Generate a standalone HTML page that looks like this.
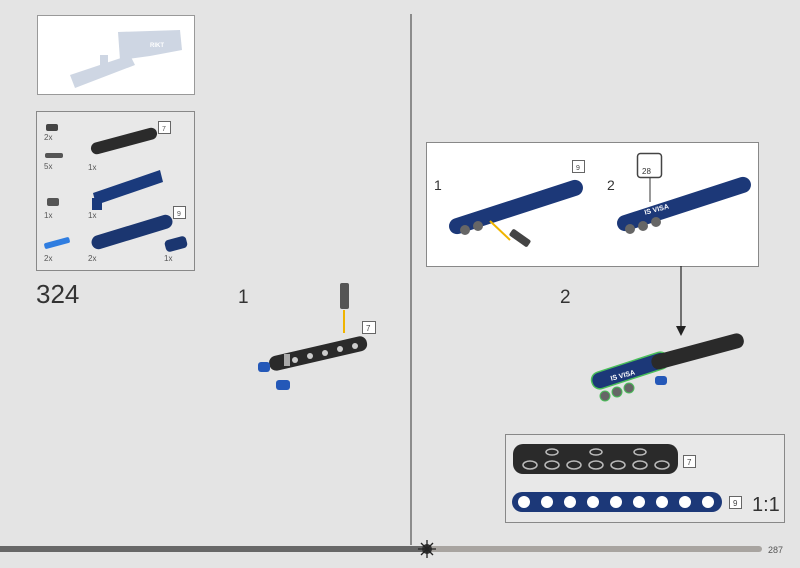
<!DOCTYPE html>
<html><head><meta charset="utf-8"><style>
html,body{margin:0;padding:0;background:#e4e4e4;}
svg{display:block;font-family:"Liberation Sans",sans-serif;}
</style></head><body>
<svg width="800" height="568" viewBox="0 0 800 568" xmlns="http://www.w3.org/2000/svg">
<rect width="800" height="568" fill="#e4e4e4"/>
<!-- top-left preview -->
<rect x="37.5" y="15.5" width="157" height="79" fill="#fff" stroke="#999"/>
<g fill="#c9d2e0" opacity="0.9">
<polygon points="118,32 180,30 182,50 150,56 120,60"/>
<polygon points="70,75 130,55 135,65 75,88"/>
<rect x="100" y="55" width="8" height="20"/>
</g>
<text x="150" y="47" font-size="6" fill="#fff" font-weight="bold">RIKT</text>
<!-- parts box -->
<rect x="36.5" y="111.5" width="158" height="159" fill="#e8e8e8" stroke="#888"/>
<g font-size="8" fill="#555">
<rect x="46" y="124" width="12" height="7" rx="2" fill="#444"/><text x="44" y="140">2x</text>
<rect x="45" y="153" width="18" height="5" rx="2" fill="#555"/><text x="44" y="169">5x</text>
<rect x="47" y="198" width="12" height="8" rx="2" fill="#555"/><text x="44" y="218">1x</text>
<rect x="44" y="240" width="26" height="6" rx="2" fill="#2f7de0" transform="rotate(-15 57 243)"/><text x="44" y="261">2x</text>
<rect x="90" y="135" width="68" height="12" rx="6" fill="#2b2b2b" transform="rotate(-15 124 141)"/><text x="88" y="170">1x</text>
<rect x="158.5" y="121.5" width="12" height="12" fill="#fff" stroke="#666"/><text x="162" y="131" font-size="7">7</text>
<polygon points="93,193 160,170 163,182 96,205" fill="#1a3a7c"/><rect x="92" y="198" width="10" height="12" fill="#1a3a7c"/><text x="88" y="218">1x</text>
<rect x="90" y="225" width="84" height="14" rx="7" fill="#1b3670" transform="rotate(-17 132 232)"/><text x="88" y="261">2x</text>
<rect x="173.5" y="206.5" width="12" height="12" fill="#fff" stroke="#666"/><text x="177" y="216" font-size="7">9</text>
<rect x="165" y="238" width="22" height="12" rx="4" fill="#1b3670" transform="rotate(-15 176 244)"/><text x="164" y="261">1x</text>
</g>
<text x="36" y="303" font-size="26" fill="#333">324</text>
<!-- divider -->
<line x1="411" y1="14" x2="411" y2="545" stroke="#333" stroke-width="1"/>
<!-- step 1 -->
<text x="238" y="303" font-size="19" fill="#333">1</text>
<rect x="340" y="283" width="9" height="26" rx="2" fill="#555"/>
<line x1="344" y1="310" x2="344" y2="333" stroke="#f0b400" stroke-width="2"/>
<rect x="362.5" y="321.5" width="13" height="12" fill="#fff" stroke="#666"/><text x="366" y="331" font-size="8" fill="#444">7</text>
<rect x="268" y="346" width="100" height="15" rx="7" fill="#2a2a2a" transform="rotate(-13 318 353)"/>
<g fill="#ccc"><circle cx="295" cy="360" r="3"/><circle cx="310" cy="356" r="3"/><circle cx="325" cy="353" r="3"/><circle cx="340" cy="349" r="3"/><circle cx="355" cy="346" r="3"/></g>
<rect x="284" y="354" width="6" height="12" fill="#aaa"/>
<rect x="258" y="362" width="12" height="10" rx="3" fill="#2458b8"/>
<rect x="276" y="380" width="14" height="10" rx="3" fill="#2458b8"/>
<!-- right submodel box -->
<rect x="426.5" y="142.5" width="332" height="124" fill="#fff" stroke="#888"/>
<text x="434" y="190" font-size="14" fill="#333">1</text>
<text x="607" y="190" font-size="14" fill="#333">2</text>
<rect x="446" y="199" width="140" height="16" rx="8" fill="#1c3878" transform="rotate(-18 516 207)"/>
<rect x="572.5" y="160.5" width="12" height="12" fill="#fff" stroke="#666"/><text x="576" y="170" font-size="7" fill="#444">9</text>
<line x1="510" y1="240" x2="490" y2="221" stroke="#f0b400" stroke-width="2"/>
<rect x="509" y="234" width="22" height="8" rx="2" fill="#444" transform="rotate(35 520 238)"/>
<g fill="#666"><circle cx="465" cy="230" r="5"/><circle cx="478" cy="226" r="5"/></g>
<rect x="614" y="196" width="140" height="16" rx="8" fill="#1c3878" transform="rotate(-18 684 204)"/>
<text x="644" y="212" font-size="7" fill="#fff" font-weight="bold" transform="rotate(-15 655 209)">IS  VISA</text>
<g fill="#666"><circle cx="630" cy="229" r="5"/><circle cx="643" cy="226" r="5"/><circle cx="656" cy="222" r="5"/></g>
<rect x="637.5" y="153.5" width="24" height="24" rx="3" fill="#fff" stroke="#444" stroke-width="1.5"/>
<text x="642" y="174" font-size="8" fill="#333">28</text>
<line x1="650" y1="178" x2="650" y2="202" stroke="#333"/>
<!-- arrow -->
<line x1="681" y1="266" x2="681" y2="330" stroke="#222" stroke-width="1.2"/>
<polygon points="676,326 686,326 681,336" fill="#222"/>
<text x="560" y="303" font-size="19" fill="#333">2</text>
<!-- assembled -->
<rect x="590" y="362" width="80" height="17" rx="8" fill="#1c3878" stroke="#4bbf5a" stroke-width="1.5" transform="rotate(-18 630 370)"/>
<rect x="650" y="344" width="95" height="15" rx="7" fill="#2a2a2a" transform="rotate(-15 697 351)"/>
<text x="610" y="377" font-size="7" fill="#fff" font-weight="bold" transform="rotate(-15 625 374)">IS  VISA</text>
<g fill="#666" stroke="#4bbf5a"><circle cx="605" cy="396" r="5"/><circle cx="617" cy="392" r="5"/><circle cx="629" cy="388" r="5"/></g>
<rect x="655" y="376" width="12" height="9" rx="3" fill="#2458b8"/>
<!-- scale box -->
<rect x="505.5" y="434.5" width="279" height="88" fill="#e8e8e8" stroke="#888"/>
<rect x="513" y="444" width="165" height="30" rx="10" fill="#2a2a2a"/>
<g fill="none" stroke="#bbb" stroke-width="1.5">
<ellipse cx="530" cy="465" rx="7" ry="4"/><ellipse cx="552" cy="465" rx="7" ry="4"/><ellipse cx="574" cy="465" rx="7" ry="4"/><ellipse cx="596" cy="465" rx="7" ry="4"/><ellipse cx="618" cy="465" rx="7" ry="4"/><ellipse cx="640" cy="465" rx="7" ry="4"/><ellipse cx="662" cy="465" rx="7" ry="4"/>
<ellipse cx="552" cy="452" rx="6" ry="3"/><ellipse cx="596" cy="452" rx="6" ry="3"/><ellipse cx="640" cy="452" rx="6" ry="3"/>
</g>
<rect x="683.5" y="455.5" width="12" height="12" fill="#fff" stroke="#666"/><text x="687" y="465" font-size="8" fill="#444">7</text>
<rect x="512" y="492" width="210" height="20" rx="10" fill="#1c3878"/>
<g fill="#fff"><circle cx="524" cy="502" r="6"/><circle cx="547" cy="502" r="6"/><circle cx="570" cy="502" r="6"/><circle cx="593" cy="502" r="6"/><circle cx="616" cy="502" r="6"/><circle cx="639" cy="502" r="6"/><circle cx="662" cy="502" r="6"/><circle cx="685" cy="502" r="6"/><circle cx="708" cy="502" r="6"/></g>
<rect x="729.5" y="496.5" width="12" height="12" fill="#fff" stroke="#666"/><text x="733" y="506" font-size="8" fill="#444">9</text>
<text x="752" y="511" font-size="20" fill="#333">1:1</text>
<!-- progress bar -->
<rect x="0" y="546" width="426" height="6" fill="#676767"/>
<rect x="426" y="546" width="336" height="6" rx="3" fill="#a8a4a0"/>
<circle cx="427" cy="549" r="5" fill="#333"/>
<g stroke="#222" stroke-width="1.3">
<line x1="427" y1="540" x2="427" y2="558"/><line x1="418" y1="549" x2="436" y2="549"/>
<line x1="421" y1="543" x2="433" y2="555"/><line x1="433" y1="543" x2="421" y2="555"/>
</g>
<text x="768" y="553" font-size="9" fill="#555">287</text>
</svg>
</body></html>
